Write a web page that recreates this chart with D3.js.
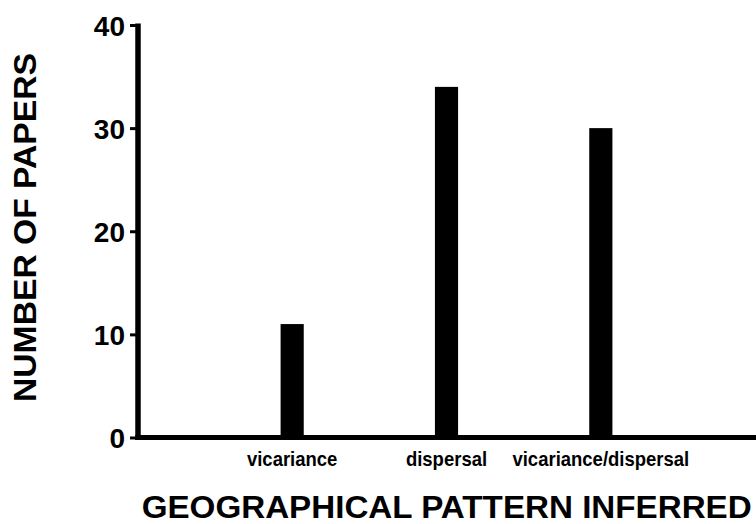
<!DOCTYPE html>
<html>
<head>
<meta charset="utf-8">
<script src="https://cdn.jsdelivr.net/npm/d3@7"></script>
<style>
  html, body { margin: 0; padding: 0; background: #fff; }
  svg { display: block; }
  text { font-family: "Liberation Sans", Arial, Helvetica, sans-serif; font-weight: bold; fill: #000; }
</style>
</head>
<body>
<svg id="chart" width="756" height="524"></svg>
<script>
const categories = ["vicariance", "dispersal", "vicariance/dispersal"];
const values = [11, 34, 30];
const yTicks = [0, 10, 20, 30, 40];
const yTitle = "NUMBER OF PAPERS";
const xTitle = "GEOGRAPHICAL PATTERN INFERRED";

const svg = d3.select("#chart");
const axisX = 138, axisY = 437.5, rightEdge = 758;

const y = d3.scaleLinear().domain([0, 40]).range([axisY, 25]);
const x = d3.scaleBand().domain(categories).range([215, 678])
  .paddingInner(0.85).paddingOuter(0.425);

// bars
svg.append("g").selectAll("rect").data(values).join("rect")
  .attr("x", (d, i) => x(categories[i]))
  .attr("width", x.bandwidth())
  .attr("y", d => y(d))
  .attr("height", d => y(0) - y(d))
  .attr("fill", "#000");

// y axis
const yg = svg.append("g").attr("transform", `translate(${axisX},0)`)
  .call(d3.axisLeft(y).tickValues(yTicks).tickSize(8).tickPadding(5).tickFormat(d3.format("d")));
yg.select(".domain").remove();
yg.selectAll(".tick line").attr("stroke", "#000").attr("stroke-width", 3);
yg.selectAll(".tick text").style("font-size", "28px").attr("dy", "0.36em");
svg.append("line")
  .attr("x1", axisX).attr("x2", axisX)
  .attr("y1", y(40) - 1.5).attr("y2", axisY + 2.5)
  .attr("stroke", "#000").attr("stroke-width", 5.5);

// x axis
const xg = svg.append("g").attr("transform", `translate(0,${axisY})`)
  .call(d3.axisBottom(x).tickSize(0).tickPadding(0));
xg.select(".domain").remove();
xg.selectAll(".tick text").style("font-size", "20px")
  .attr("y", 29).attr("dy", "0").attr("transform", "scale(0.925,1)");
svg.append("line")
  .attr("x1", axisX - 2.75).attr("x2", rightEdge)
  .attr("y1", axisY).attr("y2", axisY)
  .attr("stroke", "#000").attr("stroke-width", 5);

// titles
svg.append("text")
  .attr("transform", `translate(36,227.5) rotate(-90)`)
  .attr("text-anchor", "middle")
  .attr("textLength", 349).attr("lengthAdjust", "spacingAndGlyphs")
  .style("font-size", "31.5px")
  .text(yTitle);

svg.append("text")
  .attr("x", 141.7).attr("y", 517.5)
  .attr("textLength", 610).attr("lengthAdjust", "spacingAndGlyphs")
  .style("font-size", "30.5px")
  .text(xTitle);
</script>
</body>
</html>
